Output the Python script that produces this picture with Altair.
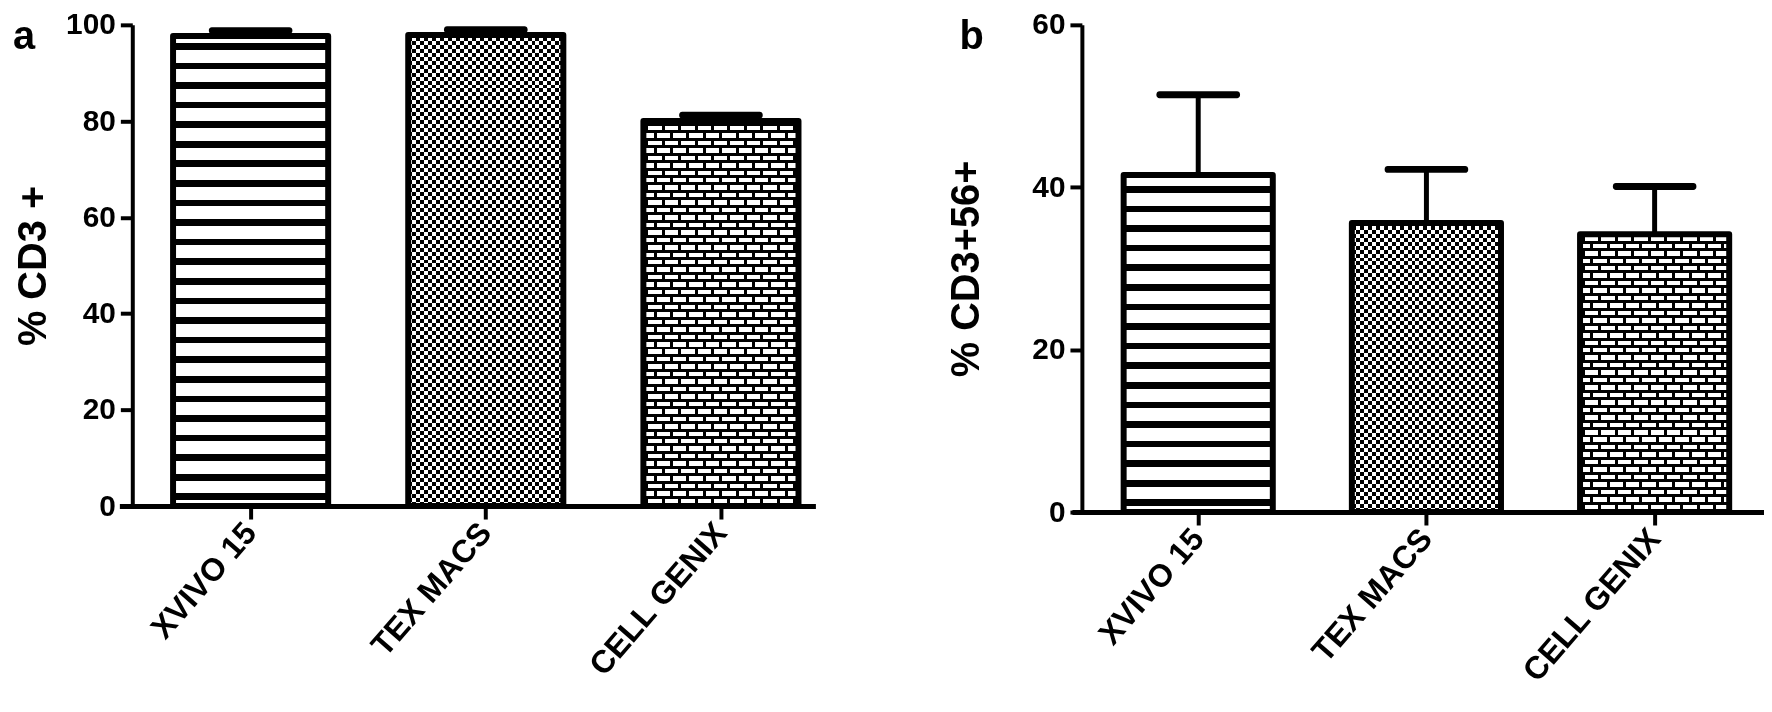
import altair as alt
import pandas as pd

# ---------------- data ----------------
categories = ["XVIVO 15", "TEX MACS", "CELL GENIX"]
fill_kinds = ["stripes", "checker", "brick"]

cd3_mean = [97.7, 97.9, 80.0]
cd3_upper = [98.8, 99.0, 81.2]          # mean + error
cd356_mean = [41.5, 35.6, 34.2]
cd356_upper = [51.4, 42.2, 40.1]

cd3_ticks = [0, 20, 40, 60, 80, 100]
cd356_ticks = [0, 20, 40, 60]

FONT = "Liberation Sans"
INK = "#000000"
PAPER = "#ffffff"
CLEAR = "rgba(0,0,0,0)"


# ---------------- pattern helpers (hatch fills as hard-stop gradients) ----------------
def band_stops(length, period, ink_len, phase, ink=INK, paper=PAPER):
    intervals = []
    s = phase - period * (int(phase // period) + 1)
    while s < length:
        a, b = max(s, 0.0), min(s + ink_len, length)
        if b > a:
            intervals.append((a, b))
        s += period
    pts = []
    cur = 0.0
    for a, b in intervals:
        if a > cur:
            pts += [(cur, paper), (a, paper)]
        pts += [(a, ink), (b, ink)]
        cur = b
    if cur < length:
        pts += [(cur, paper), (length, paper)]
    return [{"offset": round(o / length, 6), "color": c} for o, c in pts]


def ygrad(stops):
    return {"gradient": "linear", "x1": 0, "y1": 1, "x2": 0, "y2": 0, "stops": stops}


def xgrad(stops):
    return {"gradient": "linear", "x1": 0, "y1": 0, "x2": 1, "y2": 0, "stops": stops}


def pattern_layers(kind, w, h):
    if kind == "stripes":
        return [(ygrad(band_stops(h, 19.7, 6.7, 6.0)), None)]
    if kind == "checker":
        return [
            (ygrad(band_stops(h, 8.0, 4.0, 0.0)), None),
            (xgrad(band_stops(w, 8.0, 4.0, 0.0, ink=PAPER, paper=INK)), "difference"),
        ]
    # brick
    R, m, P, j = 7.5, 3.0, 16.5, 3.0
    return [
        (xgrad(band_stops(w, P, j, 2.0)), None),
        (ygrad(band_stops(h, 2 * R, R, R, ink=PAPER, paper=INK)), "difference"),
        (xgrad(band_stops(w, P / 2, j, 2.0)), "lighten"),
        (ygrad(band_stops(h, R, m, 0.0, ink=INK, paper=CLEAR)), None),
    ]


# ---------------- one panel ----------------
def panel(means, uppers, ymax, yticks, ytitle, letter, W, H, first_c, step, bw,
          y_offset, title_pad, letter_x, letter_y):
    df = pd.DataFrame({"cat": categories, "mean": means, "upper": uppers, "kind": fill_kinds})

    p_in = 1 - bw / step
    left_over = W - step * (3 - p_in)
    align = (first_c - bw / 2) / left_over
    p_out = left_over / (2 * step)

    X = alt.X(
        "cat:N", sort=categories,
        scale=alt.Scale(paddingInner=p_in, paddingOuter=p_out, align=align),
        axis=alt.Axis(
            title=None, labelAngle=-49, labelFont=FONT, labelFontSize=32,
            labelFontWeight="bold", labelColor=INK, labelPadding=8, labelLimit=0,
            tickSize=13, tickWidth=4, tickColor=INK,
            domainWidth=5, domainColor=INK,
        ),
    )
    YS = alt.Scale(domain=[0, ymax], nice=False, zero=True)
    YA = alt.Axis(
        values=yticks, title=ytitle, offset=y_offset, grid=False,
        domainColor=INK, domainWidth=4, tickColor=INK, tickWidth=4, tickSize=12,
        labelFont=FONT, labelFontSize=30, labelFontWeight="bold", labelColor=INK,
        labelPadding=5, titleFont=FONT, titleFontSize=40, titleFontWeight="bold",
        titleColor=INK, titlePadding=title_pad,
    )
    Y = alt.Y("mean:Q", scale=YS, axis=YA)
    base = alt.Chart(df).encode(x=X, y=Y)

    layers = []
    for c, kind, v in zip(categories, fill_kinds, means):
        h_px = v / ymax * H
        for fill, blend in pattern_layers(kind, bw, h_px):
            kw = {"fill": fill, "strokeWidth": 0}
            if blend:
                kw["blend"] = blend
            layers.append(base.transform_filter(alt.datum.cat == c).mark_bar(**kw))

    layers.append(base.mark_bar(fillOpacity=0, stroke=INK, strokeWidth=6, strokeJoin="round"))
    layers.append(base.mark_rule(color=INK, strokeWidth=5).encode(y2="upper:Q"))
    layers.append(
        base.mark_tick(color=INK, size=84, thickness=7, opacity=1, cornerRadius=3)
        .encode(y=alt.Y("upper:Q", scale=YS, axis=YA))
    )
    layers.append(
        alt.Chart(pd.DataFrame({"t": [letter]}))
        .mark_text(font=FONT, fontSize=40, fontWeight="bold", align="left",
                   baseline="alphabetic", color=INK)
        .encode(text="t:N", x=alt.value(letter_x), y=alt.value(letter_y))
    )
    return alt.layer(*layers).properties(width=W, height=H)


pa = panel(cd3_mean, cd3_upper, 100, cd3_ticks, "% CD3 +", "a",
           W=700, H=484, first_c=132, step=236.5, bw=156, y_offset=-13,
           title_pad=12, letter_x=-107, letter_y=24)
pb = panel(cd356_mean, cd356_upper, 60, cd356_ticks, "% CD3+56+", "b",
           W=696, H=490, first_c=127, step=229.5, bw=150, y_offset=-10,
           title_pad=46, letter_x=-113, letter_y=24)

chart = (
    alt.hconcat(pa, pb, spacing=131)
    .properties(padding={"left": 5, "right": 0, "top": 0, "bottom": 0})
    .configure_view(strokeWidth=0)
)

chart.save("out.html", embed_options={"renderer": "svg", "actions": False})
